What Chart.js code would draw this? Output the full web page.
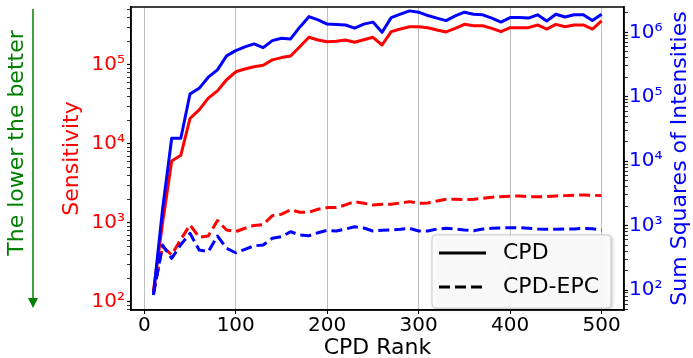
<!DOCTYPE html>
<html lang="en">
<head>
  <meta charset="UTF-8">
  <script src="https://cdn.jsdelivr.net/npm/chart.js"></script>
  <title>CPD Rank</title>
  <style>
    body { margin: 0; background: #fff; }
  </style>
</head>
<body>
  <canvas id="chart" width="693" height="358"></canvas>
  <script>
// data
const ranks = [10,20,30,40,50,60,70,80,90,100,110,120,130,140,150,160,170,180,190,200,
  210,220,230,240,250,260,270,280,290,300,310,320,330,340,350,360,370,380,390,400,
  410,420,430,440,450,460,470,480,490,500];

// Sensitivity (left axis)
const sensCPD = [135,1000,6100,7200,21000,27000,38000,47000,65000,82000,
  89000,95000,99000,116000,124000,130000,170000,224000,207000,197000,
  200000,207000,194000,209000,224000,179000,264000,285000,305000,305000,
  296000,277000,262000,291000,327000,314000,314000,291000,264000,297000,
  297000,297000,321000,285000,327000,305000,321000,321000,285000,361000];
const sensEPC = [129,500,394,620,944,659,684,1070,815,776,
  857,930,950,1237,1290,1462,1366,1366,1490,1563,
  1563,1690,1862,1775,1690,1725,1725,1791,1862,1775,
  1790,1898,1995,1995,1970,1995,2054,2115,2153,2178,
  2197,2153,2153,2153,2197,2217,2240,2262,2240,2217];

// Sum squares of intensities (right axis)
const ssiCPD = [84,1800,22700,22700,110000,135000,201000,261000,430000,520000,
  593000,661000,578000,743000,810000,790000,1200000,1750000,1560000,1340000,
  1320000,1300000,1160000,1340000,1440000,1000000,1690000,1910000,2150000,2050000,
  1820000,1660000,1520000,1800000,2050000,1910000,1870000,1660000,1440000,1690000,
  1690000,1660000,1870000,1500000,1910000,1730000,1870000,1870000,1520000,1910000];
const ssiEPC = [84,500,310,506,759,418,394,690,444,379,
  428,485,500,635,673,804,715,697,776,845,
  824,885,962,918,824,845,855,875,908,824,
  824,885,908,885,855,835,885,908,918,928,
  928,908,885,875,875,885,885,908,896,855];

const xTicks = [0,100,200,300,400,500];
const legendLabels = ['CPD', 'CPD-EPC'];
const xTitle = 'CPD Rank';
const leftTitle = 'Sensitivity';
const rightTitle = 'Sum Squares of Intensities';
const note = 'The lower the better';

const RED = '#ff0000', BLUE = '#0000ff', GREEN = '#008000';
const FONT = '"DejaVu Sans", sans-serif';
const sup = '⁰¹²³⁴⁵⁶⁷⁸⁹';

function pts(ys) { return ranks.map((x, i) => ({x: x, y: ys[i]})); }

function logTicks(s) {
  const t = [];
  for (let d = 10; d <= s.max; d *= 10) {
    for (let m = 1; m < 10; m++) {
      const v = d * m;
      if (v >= s.min && v <= s.max) t.push({value: v, major: m === 1});
    }
  }
  s.ticks = t;
}
function powLabel(v) {
  const e = Math.log10(v);
  if (Math.abs(e - Math.round(e)) > 1e-9) return '';
  return '10' + String(Math.round(e)).split('').map(c => sup[+c]).join('');
}
function noPad(s) { s.paddingTop = 0; s.paddingBottom = 0; s.paddingLeft = 0; s.paddingRight = 0; }

const extras = {
  id: 'extras',
  afterDraw(chart) {
    const {ctx, chartArea: a} = chart;
    ctx.save();
    // frame
    ctx.strokeStyle = '#000';
    ctx.lineWidth = 1.5;
    ctx.strokeRect(a.left, a.top, a.right - a.left, a.bottom - a.top);

    // right axis title (bottom to top)
    ctx.fillStyle = BLUE;
    ctx.font = '22px ' + FONT;
    ctx.textAlign = 'center';
    ctx.textBaseline = 'middle';
    ctx.save();
    ctx.translate(680, (a.top + a.bottom) / 2);
    ctx.rotate(-Math.PI / 2);
    ctx.fillText(rightTitle, 0, 0);
    ctx.restore();

    // green note with arrow
    ctx.fillStyle = GREEN;
    ctx.save();
    ctx.translate(17, 143);
    ctx.rotate(-Math.PI / 2);
    ctx.fillText(note, 0, 0);
    ctx.restore();
    ctx.strokeStyle = GREEN;
    ctx.lineWidth = 1.5;
    ctx.beginPath();
    ctx.moveTo(33, 9);
    ctx.lineTo(33, 300);
    ctx.stroke();
    ctx.beginPath();
    ctx.moveTo(28, 298);
    ctx.lineTo(38, 298);
    ctx.lineTo(33, 308);
    ctx.closePath();
    ctx.fill();

    // legend
    const lx = a.right - 192, ly = a.bottom - 75, lw = 179, lh = 73;
    ctx.save();
    ctx.shadowColor = 'rgba(0,0,0,0.3)';
    ctx.shadowBlur = 4;
    ctx.shadowOffsetX = 1;
    ctx.shadowOffsetY = 1;
    ctx.fillStyle = 'rgba(255,255,255,0.9)';
    ctx.beginPath();
    ctx.roundRect(lx, ly, lw, lh, 4);
    ctx.fill();
    ctx.restore();
    ctx.strokeStyle = '#cccccc';
    ctx.lineWidth = 1;
    ctx.beginPath();
    ctx.roundRect(lx, ly, lw, lh, 4);
    ctx.stroke();

    ctx.strokeStyle = '#000';
    ctx.lineWidth = 3;
    [[], [11, 5]].forEach((dash, i) => {
      const y = ly + 18 + i * 34;
      ctx.setLineDash(dash);
      ctx.beginPath();
      ctx.moveTo(lx + 7, y);
      ctx.lineTo(lx + 54, y);
      ctx.stroke();
      ctx.setLineDash([]);
      ctx.fillStyle = '#000';
      ctx.textAlign = 'left';
      ctx.fillText(legendLabels[i], lx + 71, y);
    });
    ctx.restore();
  }
};

new Chart(document.getElementById('chart'), {
  type: 'line',
  data: {
    datasets: [
      {label: 'CPD', data: pts(sensCPD), yAxisID: 'y', borderColor: RED, order: 1},
      {label: 'CPD-EPC', data: pts(sensEPC), yAxisID: 'y', borderColor: RED, borderDash: [11, 5], order: 1},
      {label: 'CPD', data: pts(ssiCPD), yAxisID: 'y1', borderColor: BLUE, order: 0},
      {label: 'CPD-EPC', data: pts(ssiEPC), yAxisID: 'y1', borderColor: BLUE, borderDash: [11, 5], order: 0}
    ]
  },
  options: {
    responsive: false,
    animation: false,
    layout: {padding: {left: 59, right: 0, top: 7, bottom: 0}},
    elements: {
      line: {borderWidth: 3, tension: 0, fill: false, borderJoinStyle: 'round'},
      point: {radius: 0}
    },
    plugins: {legend: {display: false}, tooltip: {enabled: false}},
    scales: {
      x: {
        type: 'linear', min: -14.5, max: 524.5,
        afterBuildTicks: s => { s.ticks = xTicks.map(v => ({value: v})); },
        afterFit: s => { s.height = 48; noPad(s); },
        ticks: {color: '#000', font: {family: FONT, size: 20}, padding: 0, maxRotation: 0, autoSkip: false},
        grid: {color: '#c0c0c0', lineWidth: 1, tickColor: '#000', tickLength: 4},
        border: {color: '#000', width: 1.5},
        title: {display: true, text: xTitle, color: '#000', font: {family: FONT, size: 22, lineHeight: 0.9}, padding: 0}
      },
      y: {
        type: 'logarithmic', position: 'left', min: 79, max: 542000,
        afterBuildTicks: logTicks,
        afterFit: s => { s.width = 72; noPad(s); },
        ticks: {color: RED, font: {family: FONT, size: 20}, padding: 2, autoSkip: false, callback: powLabel},
        grid: {drawOnChartArea: false, tickColor: '#000', tickLength: 4,
          tickWidth: c => (c.tick && c.tick.major ? 1.2 : 0.8)},
        border: {color: '#000', width: 1.5},
        title: {display: true, text: leftTitle, color: RED, font: {family: FONT, size: 22}, padding: 0}
      },
      y1: {
        type: 'logarithmic', position: 'right', min: 49, max: 2470000,
        afterBuildTicks: logTicks,
        afterFit: s => { s.width = 69; noPad(s); },
        ticks: {color: BLUE, font: {family: FONT, size: 20}, padding: 1, autoSkip: false, callback: powLabel},
        grid: {drawOnChartArea: false, tickColor: '#000', tickLength: 4,
          tickWidth: c => (c.tick && c.tick.major ? 1.2 : 0.8)},
        border: {color: '#000', width: 1.5}
      }
    }
  },
  plugins: [extras]
});
  </script>
</body>
</html>
